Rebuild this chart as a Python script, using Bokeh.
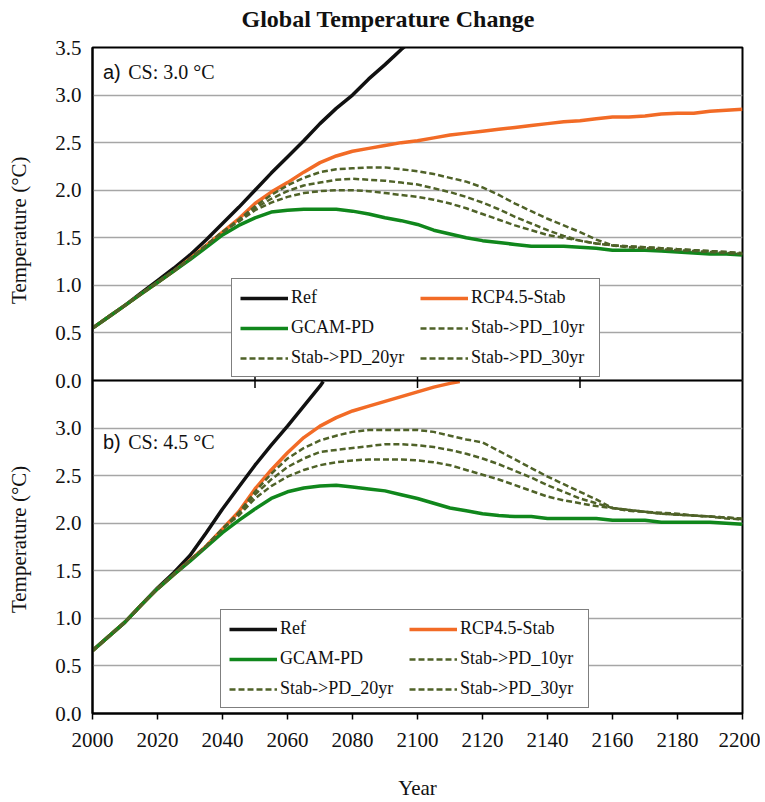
import numpy as np
from bokeh.plotting import figure
from bokeh.layouts import row, column
from bokeh.models import Range1d, FixedTicker, Span, Label, Legend, LegendItem
from bokeh.embed import file_html
from bokeh.resources import INLINE

SERIF = "Liberation Serif"
SANS = "Liberation Sans"

# ---------------- data ----------------
years = list(range(2000, 2201, 5))

# Panel a) CS 3.0 C
ref_a_years = list(range(2000, 2101, 5))
ref_a = [0.55, 0.67, 0.79, 0.92, 1.05, 1.18, 1.32, 1.48, 1.65, 1.82,
         2.00, 2.18, 2.35, 2.52, 2.70, 2.86, 3.00, 3.17, 3.32, 3.48, 3.62]
rcp_a = [0.55, 0.67, 0.79, 0.91, 1.03, 1.15, 1.28, 1.42, 1.56, 1.70,
         1.86, 1.98, 2.08, 2.19, 2.29, 2.36, 2.41, 2.44, 2.47, 2.50,
         2.52, 2.55, 2.58, 2.60, 2.62, 2.64, 2.66, 2.68, 2.70, 2.72,
         2.73, 2.75, 2.77, 2.77, 2.78, 2.80, 2.81, 2.81, 2.83, 2.84, 2.85]
gcam_a = [0.55, 0.67, 0.79, 0.91, 1.03, 1.15, 1.27, 1.40, 1.53, 1.63,
          1.71, 1.77, 1.79, 1.80, 1.80, 1.80, 1.78, 1.75, 1.71, 1.68,
          1.64, 1.58, 1.54, 1.50, 1.47, 1.45, 1.43, 1.41, 1.41, 1.41,
          1.40, 1.39, 1.37, 1.37, 1.37, 1.36, 1.35, 1.34, 1.33, 1.33, 1.32]
pd10_a = [0.55, 0.67, 0.79, 0.91, 1.03, 1.15, 1.28, 1.42, 1.56, 1.67,
          1.79, 1.87, 1.93, 1.97, 1.99, 2.00, 2.00, 1.99, 1.97, 1.95,
          1.93, 1.90, 1.86, 1.81, 1.75, 1.69, 1.63, 1.58, 1.53, 1.50,
          1.47, 1.44, 1.42, 1.40, 1.39, 1.38, 1.37, 1.36, 1.35, 1.34, 1.33]
pd20_a = [0.55, 0.67, 0.79, 0.91, 1.03, 1.15, 1.28, 1.42, 1.56, 1.68,
          1.81, 1.91, 1.99, 2.05, 2.08, 2.11, 2.12, 2.11, 2.10, 2.08,
          2.06, 2.02, 1.98, 1.93, 1.87, 1.80, 1.72, 1.65, 1.58, 1.52,
          1.47, 1.44, 1.42, 1.41, 1.40, 1.39, 1.38, 1.37, 1.36, 1.35, 1.33]
pd30_a = [0.55, 0.67, 0.79, 0.91, 1.03, 1.15, 1.28, 1.42, 1.56, 1.69,
          1.83, 1.95, 2.05, 2.13, 2.19, 2.22, 2.23, 2.24, 2.24, 2.22,
          2.20, 2.17, 2.13, 2.09, 2.03, 1.95, 1.86, 1.78, 1.70, 1.63,
          1.56, 1.48, 1.42, 1.41, 1.40, 1.39, 1.38, 1.37, 1.36, 1.35, 1.34]

# Panel b) CS 4.5 C  (series stop where they leave the panel at 3.5)
ref_b_years = [2000, 2005, 2010, 2015, 2020, 2025, 2030, 2035, 2040, 2045,
               2050, 2055, 2060, 2065, 2070, 2071]
ref_b = [0.66, 0.81, 0.96, 1.14, 1.32, 1.48, 1.66, 1.90, 2.15, 2.38,
         2.61, 2.82, 3.02, 3.23, 3.44, 3.49]
rcp_b_years = [2000, 2005, 2010, 2015, 2020, 2025, 2030, 2035, 2040, 2045,
               2050, 2055, 2060, 2065, 2070, 2075, 2080, 2085, 2090, 2095,
               2100, 2105, 2110, 2113]
rcp_b = [0.66, 0.81, 0.96, 1.14, 1.31, 1.46, 1.61, 1.76, 1.94, 2.12,
         2.36, 2.56, 2.74, 2.90, 3.02, 3.11, 3.18, 3.23, 3.28, 3.33,
         3.38, 3.43, 3.47, 3.49]
gcam_b = [0.66, 0.81, 0.96, 1.14, 1.31, 1.46, 1.60, 1.75, 1.90, 2.03,
          2.15, 2.26, 2.33, 2.37, 2.39, 2.40, 2.38, 2.36, 2.34, 2.30,
          2.26, 2.21, 2.16, 2.13, 2.10, 2.08, 2.07, 2.07, 2.05, 2.05,
          2.05, 2.05, 2.03, 2.03, 2.03, 2.01, 2.01, 2.01, 2.01, 2.00, 1.99]
pd10_b = [0.66, 0.81, 0.96, 1.14, 1.31, 1.46, 1.61, 1.76, 1.94, 2.08,
          2.26, 2.39, 2.49, 2.56, 2.61, 2.64, 2.66, 2.67, 2.67, 2.67,
          2.66, 2.64, 2.61, 2.56, 2.51, 2.46, 2.40, 2.34, 2.28, 2.24,
          2.21, 2.18, 2.16, 2.13, 2.12, 2.10, 2.09, 2.08, 2.07, 2.06, 2.04]
pd20_b = [0.66, 0.81, 0.96, 1.14, 1.31, 1.46, 1.61, 1.76, 1.94, 2.10,
          2.30, 2.46, 2.59, 2.68, 2.75, 2.77, 2.79, 2.81, 2.83, 2.83,
          2.82, 2.80, 2.77, 2.73, 2.68, 2.62, 2.55, 2.48, 2.40, 2.33,
          2.26, 2.21, 2.16, 2.14, 2.12, 2.10, 2.09, 2.08, 2.07, 2.05, 2.04]
pd30_b = [0.66, 0.81, 0.96, 1.14, 1.31, 1.46, 1.61, 1.76, 1.94, 2.11,
          2.33, 2.52, 2.68, 2.79, 2.87, 2.92, 2.96, 2.98, 2.98, 2.98,
          2.98, 2.96, 2.92, 2.88, 2.85, 2.76, 2.67, 2.58, 2.49, 2.41,
          2.33, 2.25, 2.16, 2.14, 2.12, 2.11, 2.10, 2.08, 2.07, 2.06, 2.05]

series_names = ["Ref", "RCP4.5-Stab", "GCAM-PD",
                "Stab->PD_10yr", "Stab->PD_20yr", "Stab->PD_30yr"]

x_ticks = [2000, 2020, 2040, 2060, 2080, 2100, 2120, 2140, 2160, 2180, 2200]
top_x_ticks = [2050, 2100, 2150]
y_ticks = [0.0, 0.5, 1.0, 1.5, 2.0, 2.5, 3.0, 3.5, 4.0, 4.5, 5.0, 5.5, 6.0, 6.5, 7.0]
y_tick_labels = ["0.0", "0.5", "1.0", "1.5", "2.0", "2.5", "3.0",
                 "0.0", "0.5", "1.0", "1.5", "2.0", "2.5", "3.0", "3.5"]
panel_split = 3.5   # the top of panel b / the 0.0 of panel a

C_REF = "#111111"
C_RCP = "#F26B26"
C_GCAM = "#10871C"
C_PD = "#4F6228"

TH = 34              # height of the title strip
H = 802 - TH
BT, BB = 47 - TH, 88  # frame from y=47 to y=714 on the page
STRIP_W = 40
W = 760

# ---------------- title strip ----------------
t = figure(width=W, height=TH, output_backend="svg", toolbar_location=None,
           x_range=Range1d(0, W), y_range=Range1d(0, TH),
           min_border_left=0, min_border_right=0, min_border_top=0,
           min_border_bottom=0)
t.axis.visible = False
t.grid.visible = False
t.outline_line_color = None
t.add_layout(Label(x=241, y=TH - 18, text="Global Temperature Change",
                   text_font=SERIF, text_font_size="24px", text_font_style="bold",
                   text_baseline="middle", text_align="left", text_color="#111111"))

# ---------------- main figure ----------------
p = figure(width=W - STRIP_W, height=H, output_backend="svg", toolbar_location=None,
           x_range=Range1d(2000, 2200), y_range=Range1d(0, 7),
           min_border_left=92 - STRIP_W, min_border_right=18, min_border_top=BT,
           min_border_bottom=BB)
p.extra_y_ranges = {"top": Range1d(-3.5, 3.5)}

p.outline_line_color = "black"
p.outline_line_width = 2
p.background_fill_color = "white"

p.xgrid.visible = False
p.ygrid.grid_line_color = "#a6a6a6"
p.ygrid.grid_line_width = 1.5

xa = p.xaxis[0]
xa.ticker = FixedTicker(ticks=x_ticks)
xa.major_tick_out = 6
xa.major_tick_in = 0
xa.minor_tick_line_color = None
xa.axis_line_width = 2
xa.major_tick_line_width = 1.5
xa.major_label_text_font = SERIF
xa.major_label_text_font_size = "21px"
xa.major_label_text_color = "#111111"
xa.major_label_standoff = 13
xa.axis_label = "Year"
xa.axis_label_text_font = SERIF
xa.axis_label_text_font_size = "21px"
xa.axis_label_text_font_style = "normal"
xa.axis_label_text_color = "#111111"
xa.axis_label_standoff = 26

ya = p.yaxis[0]
ya.ticker = FixedTicker(ticks=y_ticks)
ya.major_label_overrides = {t_: l for t_, l in zip(y_ticks, y_tick_labels)}
ya.major_tick_out = 0
ya.major_tick_in = 0
ya.minor_tick_line_color = None
ya.axis_line_width = 2
ya.major_label_text_font = SERIF
ya.major_label_text_font_size = "21px"
ya.major_label_text_color = "#111111"
ya.major_label_standoff = 11

# divider between panels and its ticks
p.add_layout(Span(location=panel_split, dimension="width",
                  line_color="black", line_width=2))
p.scatter(x=top_x_ticks, y=[panel_split] * len(top_x_ticks), marker="dash",
          size=15, angle=np.pi / 2, line_color="black", line_width=1.5)


def draw(ys_list, yrs_list, rng):
    kw = {} if rng is None else {"y_range_name": rng}
    rs = []
    styles = [(C_REF, 3.5, "solid"), (C_RCP, 3.5, "solid"), (C_GCAM, 3.5, "solid"),
              (C_PD, 2.5, "6 3"), (C_PD, 2.5, "6 3"), (C_PD, 2.5, "6 3")]
    for ys, xs, (c, w, d) in zip(ys_list, yrs_list, styles):
        rs.append(p.line(xs, ys, line_color=c, line_width=w, line_dash=d, **kw))
    return rs


rs_a = draw([ref_a, rcp_a, gcam_a, pd10_a, pd20_a, pd30_a],
            [ref_a_years, years, years, years, years, years], "top")
rs_b = draw([ref_b, rcp_b, gcam_b, pd10_b, pd20_b, pd30_b],
            [ref_b_years, rcp_b_years, years, years, years, years], None)


def make_legend(rs, loc):
    order = [0, 2, 4, 1, 3, 5]  # Ref, GCAM-PD, 20yr | RCP, 10yr, 30yr
    items = [LegendItem(label=series_names[i], renderers=[rs[i]]) for i in order]
    leg = Legend(items=items, location=loc, ncols=2, orientation="vertical",
                 glyph_width=48, glyph_height=20, label_standoff=3,
                 label_width=120, spacing=9, padding=8, margin=0,
                 label_text_font=SERIF, label_text_font_size="18px",
                 label_text_color="#111111",
                 border_line_color="black", border_line_width=1.5,
                 background_fill_color="white", background_fill_alpha=1.0)
    p.add_layout(leg, "center")


make_legend(rs_a, (139, 336))
make_legend(rs_b, (128, 5))

# panel labels
for (yv, rng, letter, cs) in [(3.24, "top", "a)", "CS: 3.0 °C"),
                              (2.85, "default", "b)", "CS: 4.5 °C")]:
    p.add_layout(Label(x=2003.2, y=yv, y_range_name=rng, text=letter,
                       text_font=SANS, text_font_size="20px",
                       text_baseline="middle", text_color="#111111"))
    p.add_layout(Label(x=2011.0, y=yv, y_range_name=rng, text=cs,
                       text_font=SERIF, text_font_size="20px",
                       text_baseline="middle", text_color="#111111"))

# ---------------- left strip holding the two y-axis titles ----------------
s = figure(width=STRIP_W, height=H, output_backend="svg", toolbar_location=None,
           x_range=Range1d(0, STRIP_W), y_range=Range1d(0, 7),
           min_border_left=0, min_border_right=0, min_border_top=BT,
           min_border_bottom=BB)
s.extra_y_ranges = {"top": Range1d(-3.5, 3.5)}
s.axis.visible = False
s.grid.visible = False
s.outline_line_color = None
for (yv, rng) in [(1.58, "top"), (1.83, "default")]:
    s.add_layout(Label(x=18, y=yv, y_range_name=rng, text="Temperature (°C)",
                       angle=np.pi / 2, text_align="center", text_baseline="middle",
                       text_font=SERIF, text_font_size="21px", text_color="#111111"))

layout = column(t, row(s, p, spacing=0), spacing=0)
open("out.html", "w").write(file_html(layout, INLINE))
